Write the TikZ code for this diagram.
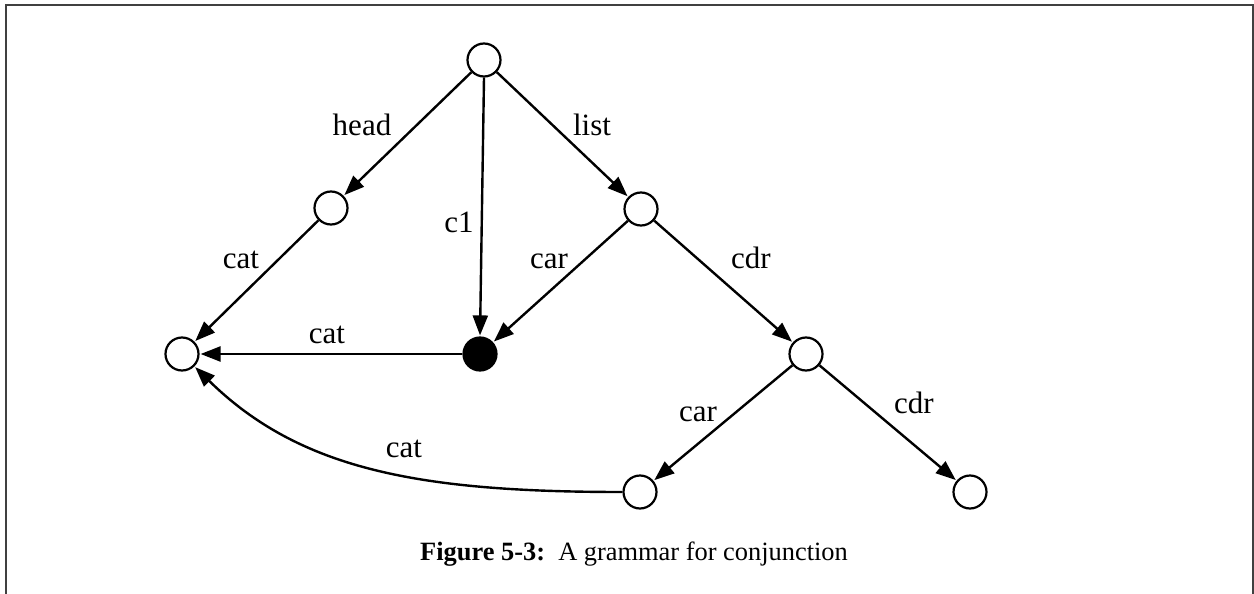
\documentclass[tikz,border=0pt]{standalone}
\usepackage{fontspec}
\setmainfont{Liberation Serif}
\usetikzlibrary{arrows.meta}
\begin{document}
\begin{tikzpicture}[x=0.5pt,y=-0.5pt,
  vtx/.style={circle,draw,line width=1.1pt,minimum size=16.5pt,inner sep=0pt,fill=white},
  dot/.style={circle,fill=black,draw,line width=1.1pt,minimum size=16.5pt,inner sep=0pt},
  edge/.style={line width=1.2pt,-{Triangle[length=10pt,width=7.5pt]},shorten >=0.5pt},
  lbl/.style={anchor=base,inner sep=0pt,font=\fontsize{15.5}{18}\selectfont},
  frame/.style={line width=1pt,draw=black!75}]
\useasboundingbox (0,0) rectangle (1254,594);
\draw[frame] (5.5,594) -- (5.5,4.5) -- (1253,4.5) -- (1253,594);

\node[vtx] (top) at (484,60) {};
\node[vtx] (head) at (331,208) {};
\node[vtx] (list) at (641,209) {};
\node[vtx] (left) at (182,354) {};
\node[dot] (fil) at (480,354) {};
\node[vtx] (cdra) at (806,354) {};
\node[vtx] (cara) at (640,492) {};
\node[vtx] (cdrb) at (970,492) {};

\draw[edge] (top) -- (head);
\draw[edge] (top.south) -- (fil.north);
\draw[edge] (top) -- (list);
\draw[edge] (head) -- (left);
\draw[edge] (list) -- (fil);
\draw[edge] (list) -- (cdra);
\draw[edge] (fil) -- (left);
\draw[edge] (cdra) -- (cara);
\draw[edge] (cdra) -- (cdrb);
\draw[edge] (cara.west) .. controls (420,492) and (300,470) .. (left.south east);

\node[lbl] (lhead) at (362,135) {head};
\node[lbl] (llist) at (592,135) {list};
\node[lbl] (lc1) at (459,232) {c1};
\node[lbl] (lcat1) at (241,268) {cat};
\node[lbl] (lcar1) at (549,268) {car};
\node[lbl] (lcdr1) at (751,268) {cdr};
\node[lbl] (lcat2) at (327,343) {cat};
\node[lbl] (lcar2) at (698,421) {car};
\node[lbl] (lcdr2) at (914,413) {cdr};
\node[lbl] (lcat3) at (404,457) {cat};

\node[anchor=base,inner sep=0pt,font=\fontsize{13.2}{16}\selectfont] (cap) at (634,560) {\textbf{Figure 5-3:}\ \ A grammar for conjunction};
\end{tikzpicture}
\end{document}
